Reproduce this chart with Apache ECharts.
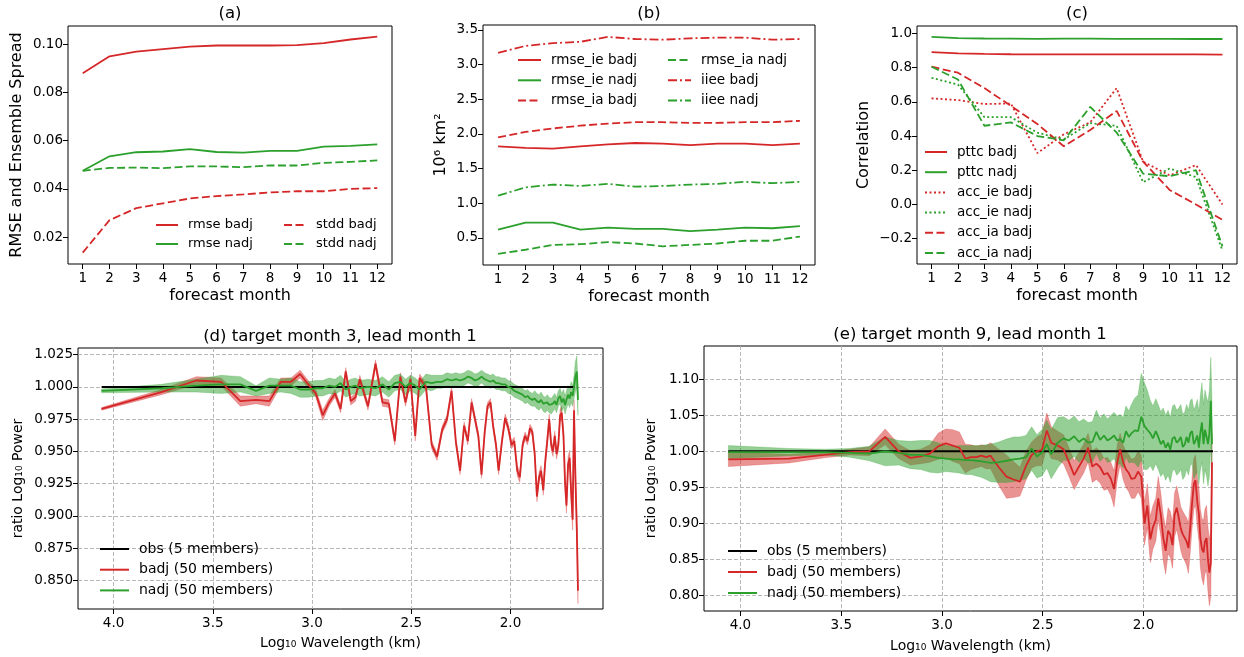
<!DOCTYPE html>
<html>
<head>
<meta charset="utf-8">
<script src="https://cdn.jsdelivr.net/npm/echarts@6/dist/echarts.min.js"></script>
<style>
  html, body { margin: 0; padding: 0; background: #fff; }
  #chart { width: 1244px; height: 657px; }
</style>
</head>
<body>
<div id="chart"></div>
<script>
// ---- panel (a)-(c): forecast month series ----
const months = [1, 2, 3, 4, 5, 6, 7, 8, 9, 10, 11, 12];

const rmseBadj = [0.088, 0.095, 0.097, 0.098, 0.099, 0.0995, 0.0995, 0.0995, 0.0997, 0.1005, 0.102, 0.1032];
const rmseNadj = [0.0475, 0.0535, 0.0552, 0.0555, 0.0565, 0.0553, 0.055, 0.0558, 0.0558, 0.0575, 0.0578, 0.0585];
const stddBadj = [0.0135, 0.027, 0.032, 0.034, 0.036, 0.037, 0.0377, 0.0385, 0.039, 0.039, 0.040, 0.0403];
const stddNadj = [0.0475, 0.0487, 0.0488, 0.0486, 0.0493, 0.0493, 0.049, 0.0497, 0.0497, 0.0508, 0.0512, 0.0518];

const rmseIeBadj = [1.82, 1.80, 1.79, 1.82, 1.85, 1.87, 1.86, 1.84, 1.86, 1.86, 1.84, 1.86];
const rmseIeNadj = [0.62, 0.72, 0.72, 0.62, 0.65, 0.63, 0.63, 0.60, 0.62, 0.65, 0.64, 0.67];
const rmseIaBadj = [1.95, 2.03, 2.08, 2.12, 2.15, 2.17, 2.17, 2.16, 2.16, 2.17, 2.17, 2.19];
const rmseIaNadj = [0.27, 0.33, 0.40, 0.41, 0.44, 0.42, 0.38, 0.40, 0.42, 0.46, 0.46, 0.52];
const iieeBadj = [3.17, 3.27, 3.31, 3.33, 3.40, 3.37, 3.36, 3.38, 3.39, 3.39, 3.36, 3.37];
const iieeNadj = [1.11, 1.23, 1.27, 1.25, 1.28, 1.24, 1.25, 1.27, 1.28, 1.31, 1.29, 1.31];

const pttcBadj = [0.89, 0.883, 0.88, 0.878, 0.877, 0.877, 0.877, 0.877, 0.877, 0.877, 0.877, 0.876];
const pttcNadj = [0.98, 0.972, 0.97, 0.969, 0.968, 0.969, 0.969, 0.968, 0.968, 0.968, 0.967, 0.967];
const accIeBadj = [0.62, 0.61, 0.587, 0.59, 0.30, 0.41, 0.48, 0.68, 0.25, 0.17, 0.23, 0.0];
const accIeNadj = [0.74, 0.70, 0.51, 0.51, 0.42, 0.38, 0.475, 0.46, 0.13, 0.21, 0.16, -0.27];
const accIaBadj = [0.805, 0.77, 0.68, 0.576, 0.47, 0.34, 0.435, 0.547, 0.25, 0.085, 0.0, -0.09];
const accIaNadj = [0.805, 0.73, 0.46, 0.48, 0.40, 0.375, 0.57, 0.42, 0.18, 0.165, 0.20, -0.245];

// tick labels
const yTicksA = [0.02, 0.04, 0.06, 0.08, 0.10];
const yTicksB = [0.5, 1.0, 1.5, 2.0, 2.5, 3.0, 3.5];
const yTicksC = [-0.2, 0.0, 0.2, 0.4, 0.6, 0.8, 1.0];
const xTicksWave = [2.0, 2.5, 3.0, 3.5, 4.0];
const yTicksD = [0.850, 0.875, 0.900, 0.925, 0.950, 0.975, 1.000, 1.025];
const yTicksE = [0.80, 0.85, 0.90, 0.95, 1.00, 1.05, 1.10];

// ---- panel (d)-(e): log10 wavelength spectra ----
const waveLog = [
  4.060, 3.759, 3.583, 3.458, 3.361, 3.282, 3.215, 3.157, 3.106, 3.060,
  3.019, 2.981, 2.946, 2.914, 2.884, 2.856, 2.830, 2.805, 2.781, 2.759,
  2.718, 2.680, 2.645, 2.613, 2.583, 2.555, 2.529, 2.504, 2.480, 2.458,
  2.426, 2.397, 2.370, 2.344, 2.320, 2.297, 2.275, 2.254, 2.234, 2.215,
  2.196, 2.179, 2.162, 2.146, 2.130, 2.116, 2.101, 2.087, 2.073, 2.060,
  2.043, 2.027, 2.011, 1.995, 1.981, 1.966, 1.953, 1.939, 1.927, 1.914,
  1.902, 1.890, 1.878, 1.867, 1.856, 1.846, 1.835, 1.825, 1.815, 1.805,
  1.795, 1.786, 1.777, 1.768, 1.759, 1.750, 1.742, 1.733, 1.725, 1.718,
  1.710, 1.702, 1.695, 1.687, 1.680, 1.673, 1.666, 1.660
];

const obsDX = [4.06, 1.676];
const obsDY = [1.0, 1.0];
const obsEX = [4.06, 1.655];
const obsEY = [1.0, 1.0];

const dRedMean = [
  0.983, 0.996, 1.005, 1.004, 0.989, 0.990, 0.989, 1.004, 1.004, 1.010,
  1.002, 0.995, 0.978, 0.988, 0.995, 0.983, 1.012, 0.989, 0.992, 1.006,
  0.985, 1.018, 0.988, 0.987, 0.958, 1.008, 0.988, 1.006, 0.962, 1.007,
  1.000, 0.955, 0.946, 0.967, 0.975, 0.997, 0.957, 0.935, 0.970, 0.958,
  0.988, 0.975, 0.962, 0.932, 0.965, 0.985, 0.988, 0.969, 0.955, 0.935,
  0.958, 0.976, 0.968, 0.955, 0.958, 0.935, 0.930, 0.955, 0.962, 0.958,
  0.968, 0.965, 0.948, 0.915, 0.930, 0.935, 0.920, 0.942, 0.958, 0.975,
  0.955, 0.950, 0.962, 0.948, 0.955, 0.978, 0.980, 0.962, 0.925, 0.908,
  0.940, 0.945, 0.920, 0.897, 0.982, 0.930, 0.890, 0.842
];
const dRedSpread = [
  0.001, 0.002, 0.003, 0.003, 0.004, 0.003, 0.004, 0.003, 0.003, 0.003,
  0.003, 0.003, 0.004, 0.003, 0.003, 0.003, 0.003, 0.003, 0.003, 0.003,
  0.003, 0.003, 0.003, 0.003, 0.003, 0.003, 0.003, 0.003, 0.004, 0.003,
  0.003, 0.003, 0.003, 0.003, 0.003, 0.003, 0.003, 0.003, 0.003, 0.003,
  0.003, 0.003, 0.003, 0.003, 0.003, 0.003, 0.003, 0.003, 0.003, 0.003,
  0.003, 0.003, 0.003, 0.003, 0.003, 0.004, 0.004, 0.003, 0.003, 0.003,
  0.003, 0.003, 0.004, 0.004, 0.004, 0.004, 0.004, 0.004, 0.004, 0.004,
  0.004, 0.004, 0.004, 0.004, 0.004, 0.005, 0.005, 0.005, 0.005, 0.006,
  0.006, 0.006, 0.007, 0.008, 0.008, 0.010, 0.012, 0.010
];
const dGreenMean = [
  0.997, 0.999, 1.001, 1.002, 1.002, 0.997, 1.001, 1.001, 1.001, 0.998,
  0.998, 0.999, 0.999, 1.001, 1.000, 1.003, 0.998, 1.000, 1.001, 0.999,
  1.000, 0.999, 1.002, 0.998, 1.003, 1.004, 1.000, 1.003, 1.001, 0.998,
  1.004, 1.003, 1.004, 1.004, 1.006, 1.005, 1.006, 1.005, 1.006, 1.008,
  1.007, 1.005, 1.006, 1.008, 1.006, 1.005, 1.004, 1.005, 1.003, 1.003,
  1.002, 1.002, 1.000, 0.999, 0.997, 0.996, 0.995, 0.994, 0.992, 0.993,
  0.991, 0.990, 0.991, 0.989, 0.988, 0.990, 0.987, 0.986, 0.988, 0.986,
  0.985, 0.987, 0.989, 0.986, 0.991, 0.993, 0.988, 0.991, 0.986, 0.990,
  0.994, 0.991, 0.996, 0.993, 1.000, 1.008, 1.012, 0.990
];
const dGreenSpread = [
  0.0015, 0.003, 0.005, 0.007, 0.006, 0.004, 0.006, 0.005, 0.006, 0.006,
  0.006, 0.006, 0.006, 0.006, 0.006, 0.006, 0.006, 0.006, 0.006, 0.006,
  0.006, 0.006, 0.006, 0.006, 0.006, 0.006, 0.006, 0.006, 0.006, 0.006,
  0.006, 0.006, 0.005, 0.005, 0.005, 0.005, 0.005, 0.005, 0.005, 0.005,
  0.005, 0.005, 0.005, 0.005, 0.005, 0.005, 0.005, 0.005, 0.005, 0.005,
  0.005, 0.005, 0.005, 0.005, 0.005, 0.005, 0.005, 0.005, 0.005, 0.005,
  0.005, 0.005, 0.006, 0.006, 0.006, 0.006, 0.006, 0.006, 0.006, 0.006,
  0.006, 0.006, 0.006, 0.006, 0.006, 0.006, 0.007, 0.007, 0.007, 0.007,
  0.007, 0.007, 0.008, 0.008, 0.009, 0.012, 0.012, 0.012
];

const eRedMean = [
  0.989, 0.990, 0.995, 0.999, 1.000, 1.020, 1.000, 0.991, 0.993, 0.997,
  1.007, 1.011, 1.008, 1.005, 0.990, 0.992, 0.992, 0.994, 0.992, 0.994,
  0.978, 0.965, 0.961, 0.958, 0.980, 0.995, 1.000, 1.002, 1.029, 1.012,
  1.008, 1.003, 0.985, 0.967, 0.979, 0.990, 1.005, 0.979, 0.983, 0.978,
  0.968, 0.970, 0.962, 0.948, 0.985, 1.003, 0.985, 0.975, 0.970, 0.962,
  0.963, 0.972, 0.965, 0.900, 0.925, 0.878, 0.895, 0.905, 0.935, 0.912,
  0.880, 0.862, 0.890, 0.885, 0.870, 0.912, 0.922, 0.908, 0.893, 0.885,
  0.880, 0.875, 0.866, 0.895, 0.928, 0.955, 0.960, 0.930, 0.913, 0.880,
  0.865, 0.860, 0.875, 0.880, 0.850, 0.832, 0.845, 0.985
];
const eRedSpread = [
  0.010, 0.006, 0.004, 0.004, 0.006, 0.011, 0.010, 0.010, 0.010, 0.012,
  0.018, 0.020, 0.022, 0.022, 0.020, 0.017, 0.015, 0.015, 0.016, 0.018,
  0.025, 0.030, 0.025, 0.020, 0.020, 0.018, 0.020, 0.022, 0.024, 0.022,
  0.020, 0.020, 0.020, 0.020, 0.020, 0.020, 0.020, 0.022, 0.022, 0.022,
  0.022, 0.022, 0.023, 0.025, 0.024, 0.022, 0.024, 0.025, 0.026, 0.027,
  0.028, 0.028, 0.030, 0.030, 0.030, 0.032, 0.030, 0.030, 0.030, 0.030,
  0.032, 0.032, 0.032, 0.032, 0.032, 0.030, 0.030, 0.030, 0.030, 0.032,
  0.032, 0.033, 0.035, 0.035, 0.035, 0.035, 0.035, 0.035, 0.038, 0.040,
  0.042, 0.045, 0.045, 0.045, 0.045, 0.046, 0.046, 0.040
];
const eGreenMean = [
  0.999, 0.999, 0.999, 0.998, 0.997, 1.000, 0.998, 0.995, 0.995, 0.993,
  0.991, 0.990, 0.989, 0.989, 0.988, 0.988, 0.987, 0.986, 0.985, 0.984,
  0.985, 0.987, 0.989, 0.990, 0.992, 1.004, 0.993, 0.998, 1.010, 0.996,
  1.012, 1.018, 1.015, 1.021, 1.013, 1.018, 1.012, 1.013, 1.027, 1.016,
  1.022, 1.015, 1.018, 1.022, 1.015, 1.017, 1.012, 1.028, 1.020, 1.025,
  1.029, 1.028, 1.048, 1.035, 1.030, 1.025, 1.018, 1.028, 1.020, 1.010,
  1.015, 1.005, 1.012, 1.002, 1.018, 1.020, 1.012, 1.015, 1.020, 1.006,
  1.010, 1.020, 1.012, 1.025, 1.028, 1.010, 1.015, 1.022, 1.005, 1.025,
  1.040, 1.010, 1.030, 1.020, 1.010, 1.025, 1.070, 1.010
];
const eGreenSpread = [
  0.009, 0.005, 0.004, 0.006, 0.010, 0.020, 0.017, 0.019, 0.020, 0.022,
  0.021, 0.018, 0.018, 0.019, 0.020, 0.020, 0.021, 0.022, 0.024, 0.026,
  0.028, 0.030, 0.031, 0.030, 0.030, 0.030, 0.030, 0.032, 0.033, 0.034,
  0.035, 0.030, 0.028, 0.028, 0.028, 0.027, 0.028, 0.028, 0.030, 0.030,
  0.030, 0.030, 0.032, 0.032, 0.034, 0.034, 0.035, 0.035, 0.036, 0.040,
  0.045, 0.050, 0.060, 0.060, 0.055, 0.045, 0.045, 0.045, 0.045, 0.045,
  0.045, 0.045, 0.045, 0.045, 0.045, 0.045, 0.045, 0.045, 0.045, 0.045,
  0.045, 0.045, 0.045, 0.045, 0.045, 0.048, 0.048, 0.050, 0.050, 0.052,
  0.055, 0.055, 0.055, 0.055, 0.058, 0.060, 0.060, 0.060
];

const FONT = "DejaVu Sans";
const RED = "#d62728", GREEN = "#2ca02c", BLACK = "#000000";
const RED_FILL = "rgba(214,39,40,0.5)", GREEN_FILL = "rgba(44,160,44,0.5)";
const DASH = [8, 3.5], DASHDOT = [9, 3, 2, 3], DOT = [2, 2.5];

function axis(gi, o) {
  const dp = o.decimals;
  return {
    gridIndex: gi,
    type: "value",
    min: o.min,
    max: o.max,
    inverse: !!o.inverse,
    name: o.name,
    nameLocation: "middle",
    nameGap: o.nameGap,
    nameRotate: o.rotate || 0,
    nameTextStyle: { fontFamily: FONT, fontSize: o.nameSize, color: "#000" },
    axisLine: { show: false, onZero: false },
    axisTick: { show: true, length: 5, customValues: o.ticks, lineStyle: { color: "#000", width: 1 } },
    axisLabel: {
      customValues: o.ticks,
      margin: o.margin || 5,
      fontFamily: FONT,
      fontSize: 13.5,
      color: "#000",
      formatter: function (v) {
        return dp === null ? String(v) : v.toFixed(dp).replace("-", "\u2212");
      }
    },
    splitLine: {
      show: !!o.grid,
      lineStyle: { color: "#b0b0b0", width: 0.9, type: [4, 2] }
    }
  };
}

function line(name, xs, ys, gi, color, type, width) {
  return {
    type: "line",
    name: name,
    xAxisIndex: gi,
    yAxisIndex: gi,
    data: xs.map((x, i) => [x, ys[i]]),
    symbol: "none",
    lineStyle: { color: color, width: width || 1.8, type: type || "solid" },
    itemStyle: { color: color },
    z: 3,
    silent: true
  };
}

function band(xs, mid, spread, gi, fill) {
  return {
    type: "custom",
    xAxisIndex: gi,
    yAxisIndex: gi,
    data: xs.map((x, i) => [x, mid[i] - spread[i], mid[i] + spread[i]]),
    encode: { x: 0, y: [1, 2] },
    z: 1,
    silent: true,
    renderItem: function (params, api) {
      if (params.dataIndex !== 0) return null;
      const up = [], lo = [];
      for (let i = 0; i < xs.length; i++) {
        up.push(api.coord([xs[i], mid[i] + spread[i]]));
        lo.push(api.coord([xs[i], mid[i] - spread[i]]));
      }
      return {
        type: "polygon",
        shape: { points: up.concat(lo.reverse()) },
        style: { fill: fill, stroke: fill, lineWidth: 0.5 }
      };
    }
  };
}

function legend(names, left, top, itemWidth, gap, size) {
  return {
    orient: "vertical",
    left: left,
    top: top,
    padding: 0,
    itemWidth: itemWidth,
    itemHeight: 14,
    itemGap: gap,
    data: names,
    selectedMode: false,
    itemStyle: { opacity: 0 },
    textStyle: { fontFamily: FONT, fontSize: size, color: "#000", lineHeight: 14, padding: [0, 0, 0, 5] }
  };
}

function title(text, cx, top) {
  return {
    text: text,
    left: cx,
    top: top,
    padding: 0,
    textAlign: "center",
    textStyle: { fontFamily: FONT, fontSize: 16.5, fontWeight: "normal", color: "#000" }
  };
}

const frame = { show: true, borderColor: "#000", borderWidth: 1, backgroundColor: "transparent" };

const option = {
  animation: false,
  backgroundColor: "#fff",
  title: [
    title("(a)", 230, 5),
    title("(b)", 649, 5),
    title("(c)", 1077, 5),
    title("(d) target month 3, lead month 1", 340, 328),
    title("(e) target month 9, lead month 1", 970, 326)
  ],
  grid: [
    Object.assign({ left: 68, top: 26, width: 324, height: 238 }, frame),
    Object.assign({ left: 483, top: 25, width: 332, height: 240 }, frame),
    Object.assign({ left: 917, top: 26, width: 320, height: 238 }, frame),
    Object.assign({ left: 78, top: 348, width: 525, height: 261 }, frame),
    Object.assign({ left: 704, top: 346, width: 533, height: 265 }, frame)
  ],
  xAxis: [
    axis(0, { min: 0.45, max: 12.55, ticks: months, decimals: null, name: "forecast month", nameGap: 24, nameSize: 16, margin: 7 }),
    axis(1, { min: 0.45, max: 12.55, ticks: months, decimals: null, name: "forecast month", nameGap: 24, nameSize: 16, margin: 7 }),
    axis(2, { min: 0.45, max: 12.55, ticks: months, decimals: null, name: "forecast month", nameGap: 24, nameSize: 16, margin: 7 }),
    axis(3, { min: 1.534, max: 4.179, inverse: true, ticks: xTicksWave, decimals: 1, name: "Log\u2081\u2080 Wavelength (km)", nameGap: 27, nameSize: 14, grid: true, margin: 7 }),
    axis(4, { min: 1.536, max: 4.181, inverse: true, ticks: xTicksWave, decimals: 1, name: "Log\u2081\u2080 Wavelength (km)", nameGap: 28, nameSize: 14, grid: true, margin: 7 })
  ],
  yAxis: [
    axis(0, { min: 0.0088, max: 0.1076, ticks: yTicksA, decimals: 2, name: "RMSE and Ensemble Spread", nameGap: 43, nameSize: 16, rotate: 90 }),
    axis(1, { min: 0.11, max: 3.572, ticks: yTicksB, decimals: 1, name: "10\u2076 km\u00b2", nameGap: 34, nameSize: 16, rotate: 90 }),
    axis(2, { min: -0.348, max: 1.043, ticks: yTicksC, decimals: 1, name: "Correlation", nameGap: 45, nameSize: 16, rotate: 90 }),
    axis(3, { min: 0.8278, max: 1.0302, ticks: yTicksD, decimals: 3, name: "ratio Log\u2081\u2080 Power", nameGap: 53, nameSize: 14, rotate: 90, grid: true }),
    axis(4, { min: 0.7788, max: 1.146, ticks: yTicksE, decimals: 2, name: "ratio Log\u2081\u2080 Power", nameGap: 46, nameSize: 14, rotate: 90, grid: true })
  ],
  legend: [
    legend(["rmse badj", "rmse nadj"], 155, 218, 22, 5, 13),
    legend(["stdd badj", "stdd nadj"], 283, 218, 22, 5, 13),
    legend(["rmse_ie badj", "rmse_ie nadj", "rmse_ia badj"], 517, 53, 23, 6.3, 13.5),
    legend(["rmse_ia nadj", "iiee badj", "iiee nadj"], 667, 53, 23, 6.3, 13.5),
    legend(["pttc badj", "pttc nadj", "acc_ie badj", "acc_ie nadj", "acc_ia badj", "acc_ia nadj"], 924, 145, 22, 6.2, 13.5),
    legend(["obs (5 members)", "badj (50 members)", "nadj (50 members)"], 99, 542, 29, 6.7, 14),
    legend(["obs (5 members)", "badj (50 members)", "nadj (50 members)"], 727, 544, 29, 7, 14)
  ],
  series: [
    line("rmse badj", months, rmseBadj, 0, RED),
    line("rmse nadj", months, rmseNadj, 0, GREEN),
    line("stdd badj", months, stddBadj, 0, RED, DASH),
    line("stdd nadj", months, stddNadj, 0, GREEN, DASH),

    line("rmse_ie badj", months, rmseIeBadj, 1, RED),
    line("rmse_ie nadj", months, rmseIeNadj, 1, GREEN),
    line("rmse_ia badj", months, rmseIaBadj, 1, RED, DASH),
    line("rmse_ia nadj", months, rmseIaNadj, 1, GREEN, DASH),
    line("iiee badj", months, iieeBadj, 1, RED, DASHDOT),
    line("iiee nadj", months, iieeNadj, 1, GREEN, DASHDOT),

    line("pttc badj", months, pttcBadj, 2, RED),
    line("pttc nadj", months, pttcNadj, 2, GREEN),
    line("acc_ie badj", months, accIeBadj, 2, RED, DOT),
    line("acc_ie nadj", months, accIeNadj, 2, GREEN, DOT),
    line("acc_ia badj", months, accIaBadj, 2, RED, DASH),
    line("acc_ia nadj", months, accIaNadj, 2, GREEN, DASH),

    band(waveLog, dRedMean, dRedSpread, 3, RED_FILL),
    band(waveLog, dGreenMean, dGreenSpread, 3, GREEN_FILL),
    line("obs (5 members)", obsDX, obsDY, 3, BLACK, "solid", 2),
    line("badj (50 members)", waveLog, dRedMean, 3, RED, "solid", 1.8),
    line("nadj (50 members)", waveLog, dGreenMean, 3, GREEN, "solid", 1.8),

    band(waveLog, eRedMean, eRedSpread, 4, RED_FILL),
    band(waveLog, eGreenMean, eGreenSpread, 4, GREEN_FILL),
    line("obs (5 members)", obsEX, obsEY, 4, BLACK, "solid", 2),
    line("badj (50 members)", waveLog, eRedMean, 4, RED, "solid", 1.8),
    line("nadj (50 members)", waveLog, eGreenMean, 4, GREEN, "solid", 1.8)
  ]
};

const myChart = echarts.init(document.getElementById("chart"));
myChart.setOption(option);
window.addEventListener("resize", function () {
  myChart.resize();
});
</script>
</body>
</html>
